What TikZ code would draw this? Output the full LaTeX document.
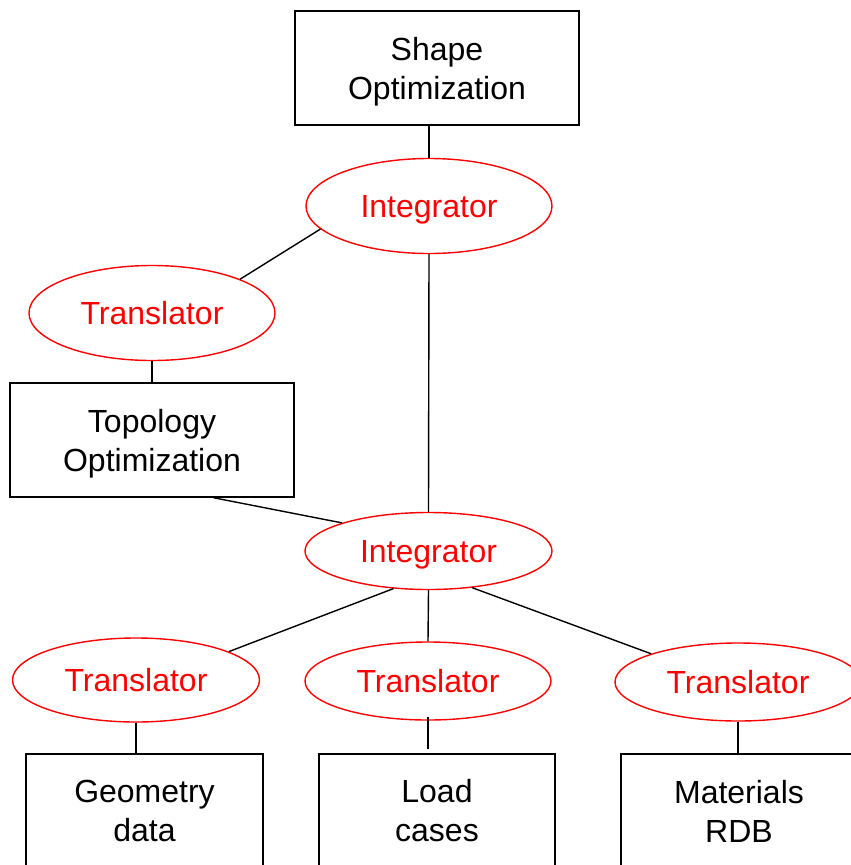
\documentclass[tikz,border=0pt]{standalone}
\usepackage{fontspec}
\setmainfont{Liberation Sans}
\usetikzlibrary{shapes.geometric,calc}
\begin{document}
\begin{tikzpicture}[x=1pt,y=-1pt,
  every node/.style={font=\fontsize{32}{39}\selectfont, align=center, inner sep=0pt},
  block/.style={draw=black, line width=1.4pt, rectangle, minimum height=114pt},
  hub/.style={draw=red, line width=1.4pt, ellipse, text=red, text depth=0pt, minimum width=246pt},
  link/.style={draw=black, line width=1.4pt}]
\useasboundingbox (0,0) rectangle (851,865);
\clip (0,0) rectangle (851,865);

% boxes
\node[block, text depth=0pt, minimum width=284pt] (shape) at (437,68) {Shape\\Optimization};
\node[block, text depth=0pt, minimum width=284pt] (topo) at (152,440) {Topology\\Optimization};
\node[block, minimum width=237pt] (geo) at (144.5,811) {Geometry\\data};
\node[block, minimum width=236pt] (load) at (437,811) {Load\\cases};
\node[block, minimum width=236pt] (mat) at (739,811) {Materials\\RDB};

% integrators and translators
\node[hub, minimum height=95pt] (int1) at (429,206) {Integrator};
\node[hub, minimum height=95pt] (tr1) at (152,313) {Translator};
\node[hub, minimum width=247pt, minimum height=77pt] (int2) at (428.5,551) {Integrator};
\node[hub, minimum width=247pt, minimum height=84pt] (tr2) at (136,680) {Translator};
\node[hub, minimum height=78pt] (tr3) at (428,681) {Translator};
\node[hub, minimum height=78pt] (tr4) at (738,682) {Translator};

% connectors
\draw[link] (int1.north) -- (int1.north |- shape.south);
\draw[link] (int1.192) -- (tr1.21);
\draw[link] (tr1.south) -- (topo.north);
\draw[link] (int1.south) -- (int2.north);
\draw[link] ($(topo.south west)!0.715!(topo.south east)$) -- (int2.162);
\draw[link] (int2.227) -- (tr2.17);
\draw[link] (int2.south) -- (tr3.north);
\draw[link] (int2.320) -- (tr4.162);
\draw[link] (tr2.south) -- (tr2.south |- geo.north);
\draw[link, shorten <=-4pt, shorten >=4pt] (tr3.south) -- (tr3.south |- load.north);
\draw[link] (tr4.south) -- (tr4.south |- mat.north);
\end{tikzpicture}
\end{document}
